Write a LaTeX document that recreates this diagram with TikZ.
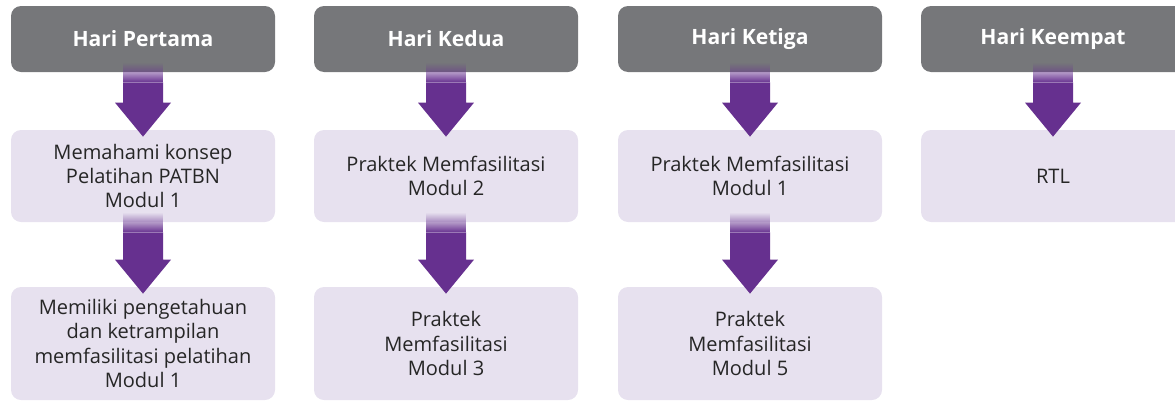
\documentclass[tikz,border=0pt]{standalone}
\usepackage{fontspec}
\setmainfont{Open Sans}
\usepackage{tikz}
\usetikzlibrary{positioning,calc,fadings}

\definecolor{headgray}{HTML}{76777A}
\definecolor{daypurple}{HTML}{66308F}
\definecolor{boxlav}{HTML}{E7E1EF}
\definecolor{boxtext}{HTML}{262626}

\begin{document}
\begin{tikzpicture}[
  dayhead/.style={fill=headgray, rounded corners=0.2cm, minimum width=5.28cm, minimum height=1.32cm, text=white, font=\fontsize{12}{14}\selectfont\bfseries},
  daybox/.style={fill=boxlav, rounded corners=0.2cm, minimum width=5.28cm, minimum height=1.84cm, align=center, text=boxtext, font=\fontsize{11.4}{13.7}\selectfont},
  tallbox/.style={daybox, minimum height=2.26cm}
]
\useasboundingbox (0,0) rectangle (23.5,-8.02);

% Headers
\node[dayhead] (h1) at (2.86,-0.78) {Hari Pertama};
\node[dayhead] (h2) at (8.92,-0.78) {Hari Kedua};
\node[dayhead] (h3) at (15.0,-0.78) {Hari Ketiga};
\node[dayhead] (h4) at (21.06,-0.78) {Hari Keempat};

% Activity boxes
\node[daybox] (a1) at (2.86,-3.52) {Memahami konsep\\Pelatihan PATBN\\Modul 1};
\node[daybox] (a2) at (8.92,-3.52) {Praktek Memfasilitasi\\Modul 2};
\node[daybox] (a3) at (15.0,-3.52) {Praktek Memfasilitasi\\Modul 1};
\node[daybox] (a4) at (21.06,-3.52) {RTL};

\node[tallbox] (b1) at (2.86,-6.87) {Memiliki pengetahuan\\dan ketrampilan\\memfasilitasi pelatihan\\Modul 1};
\node[tallbox] (b2) at (8.92,-6.87) {Praktek\\Memfasilitasi\\Modul 3};
\node[tallbox] (b3) at (15.0,-6.87) {Praktek\\Memfasilitasi\\Modul 5};

% Block arrows
\foreach \a/\b in {h1/a1, h2/a2, h3/a3, h4/a4, a1/b1, a2/b2, a3/b3} {
  \path (\a.south) ++(0,0.2) coordinate (t);
  \path (\b.north) ++(0,-0.14) coordinate (p);
  \fill[daypurple, path fading=north] ($(t)+(-0.4,0)$) rectangle ($(t)+(0.4,-0.4)$);
  \fill[daypurple] ($(t)+(-0.4,-0.4)$) -- ($(t)+(0.4,-0.4)$) -- ($(p)+(0.4,0.68)$) -- ($(p)+(0.56,0.68)$) -- (p) -- ($(p)+(-0.56,0.68)$) -- ($(p)+(-0.4,0.68)$) -- cycle;
}

\end{tikzpicture}
\end{document}
